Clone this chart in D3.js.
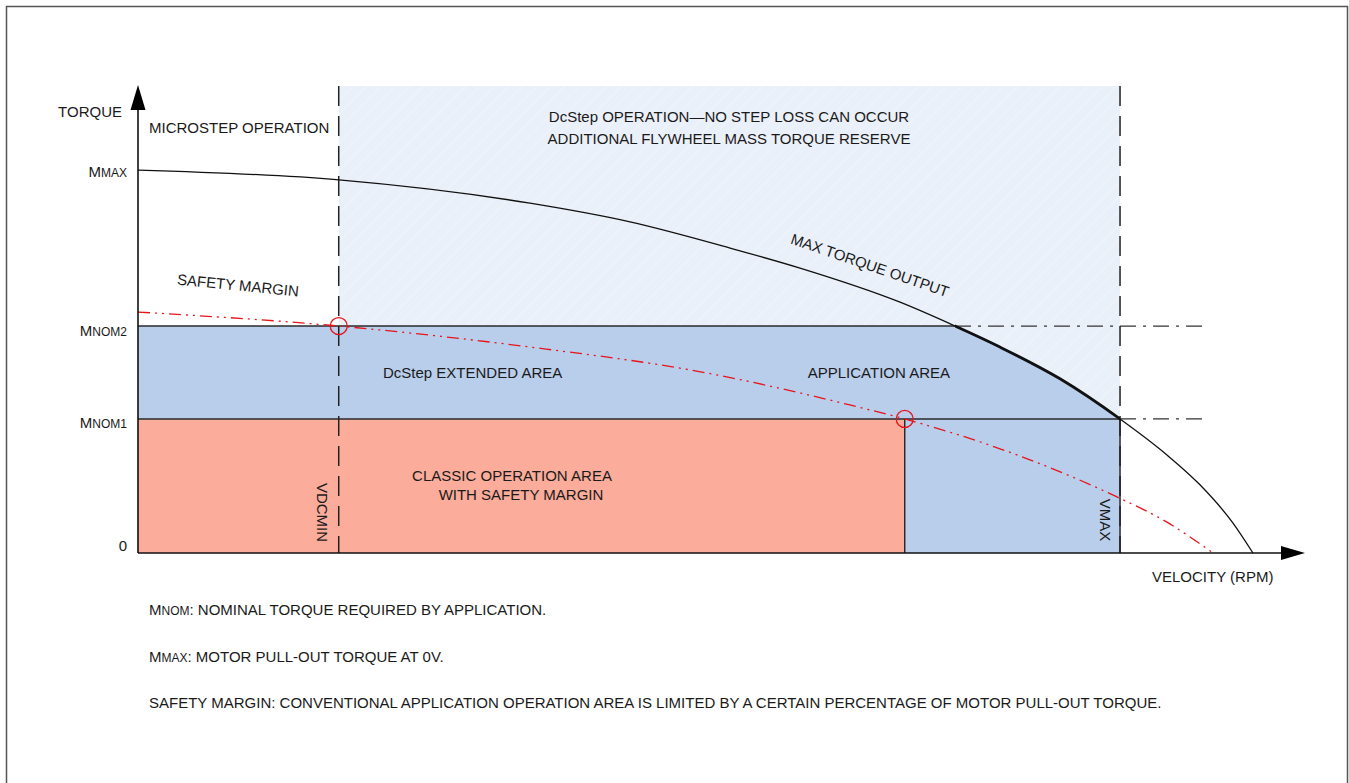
<!DOCTYPE html>
<html>
<head>
<meta charset="utf-8">
<script src="https://cdn.jsdelivr.net/npm/d3@7"></script>
<style>
  body { margin: 0; background: #fff; }
  svg text { font-family: "Liberation Sans", Arial, sans-serif; font-size: 15px; fill: #1a1a1a; }
</style>
</head>
<body>
<div id="chart"></div>
<script>
// torque / velocity chart (arbitrary units)
// velocity 0..1000, torque 0..100
const torqueLevels = [
    { id: "mmax",  main: "M", sub: "MAX",  value: 82.0, dy: 6 },
    { id: "mnom2", main: "M", sub: "NOM2", value: 48.6, dy: 9 },
    { id: "mnom1", main: "M", sub: "NOM1", value: 28.7, dy: 9 },
    { id: "zero",  main: "0", sub: "",     value: 0,    dy: -3 }
];
const M_MAX = 82.0, M_NOM2 = 48.6, M_NOM1 = 28.7;
const V_DCMIN = 172, V_CLASSIC = 657, V_MAX = 841.5, V_GUIDE_END = 916, V_NOM2_CROSS = 700.1;
const V_AXIS_END = 1000, T_AXIS_END = 100;

// max torque output curve [velocity, torque]
const maxTorqueCurve = [
    [0, 82.0], [172.2, 79.9], [335.9, 74.9], [421.6, 70.9], [507.3, 65.3], [567.3, 61.0],
    [653.0, 53.7], [700.1, 48.6], [738.6, 44.1], [790.1, 37.3], [841.5, 28.7],
    [881.7, 21.0], [910.0, 14.6], [938.3, 6.4], [955.4, 0]
];
// safety margin curve (red dash-dot-dot)
const safetyCurve = [
    [0, 51.6], [172, 48.6], [336, 44.1], [482, 38.8], [610, 31.7], [657, 28.7],
    [753.2, 21.0], [838.9, 12.0], [881.7, 6.6], [921.2, 0]
];
const markerPoints = [[V_DCMIN, M_NOM2], [V_CLASSIC, M_NOM1]];

const footnotes = [
    { main: "M", sub: "NOM", rest: ": NOMINAL TORQUE REQUIRED BY APPLICATION." },
    { main: "M", sub: "MAX", rest: ": MOTOR PULL-OUT TORQUE AT 0V." },
    { main: "SAFETY MARGIN: CONVENTIONAL APPLICATION OPERATION AREA IS LIMITED BY A CERTAIN PERCENTAGE OF MOTOR PULL-OUT TORQUE.", sub: "", rest: "" }
];

const W = 1349, H = 783;
const svg = d3.select("#chart").append("svg").attr("width", W).attr("height", H);

const x = d3.scaleLinear().domain([0, V_AXIS_END]).range([138, 1305]);
const y = d3.scaleLinear().domain([0, T_AXIS_END]).range([553, 86]);

const defs = svg.append("defs");
const pat = defs.append("pattern")
    .attr("id", "hatch").attr("patternUnits", "userSpaceOnUse")
    .attr("width", 10).attr("height", 10)
    .attr("patternTransform", "rotate(45)");
pat.append("rect").attr("width", 10).attr("height", 10).attr("fill", "#eaf0f9");
pat.append("line").attr("x1", 0).attr("y1", 0).attr("x2", 0).attr("y2", 10)
    .attr("stroke", "#f3f6fb").attr("stroke-width", 1.5);

const lineGen = d3.line().x(d => x(d[0])).y(d => y(d[1])).curve(d3.curveMonotoneX);
const underCurve = d3.area().x(d => x(d[0])).y0(y(0)).y1(d => y(d[1])).curve(d3.curveMonotoneX);

defs.append("clipPath").attr("id", "under").append("path").attr("d", underCurve(maxTorqueCurve));
defs.append("clipPath").attr("id", "boldseg").append("rect")
    .attr("x", x(V_NOM2_CROSS)).attr("y", 0)
    .attr("width", x(V_MAX) - x(V_NOM2_CROSS)).attr("height", H);

// frame
svg.append("rect").attr("x", 6.5).attr("y", 6.5).attr("width", 1341).attr("height", 820)
    .attr("fill", "none").attr("stroke", "#555").attr("stroke-width", 1.5);

// dcstep region (hatched light blue)
svg.append("rect")
    .attr("x", x(V_DCMIN)).attr("y", y(T_AXIS_END))
    .attr("width", x(V_MAX) - x(V_DCMIN)).attr("height", y(0) - y(T_AXIS_END))
    .attr("fill", "url(#hatch)");

// application area (blue), clipped under max torque curve
svg.append("rect")
    .attr("x", x(0)).attr("y", y(M_NOM2))
    .attr("width", x(V_MAX) - x(0)).attr("height", y(0) - y(M_NOM2))
    .attr("fill", "#b9ceeb").attr("clip-path", "url(#under)");

// classic area (salmon)
svg.append("rect")
    .attr("x", x(0)).attr("y", y(M_NOM1))
    .attr("width", x(V_CLASSIC) - x(0)).attr("height", y(0) - y(M_NOM1))
    .attr("fill", "#fbac9a");

// solid boundaries
const solid = svg.append("g").attr("stroke", "#2a2a2a").attr("stroke-width", 1.5);
solid.append("line").attr("x1", x(0)).attr("x2", x(V_NOM2_CROSS)).attr("y1", y(M_NOM2)).attr("y2", y(M_NOM2));
solid.append("line").attr("x1", x(0)).attr("x2", x(V_MAX)).attr("y1", y(M_NOM1)).attr("y2", y(M_NOM1));
solid.append("line").attr("x1", x(V_CLASSIC)).attr("x2", x(V_CLASSIC)).attr("y1", y(M_NOM1)).attr("y2", y(0));
solid.append("line").attr("x1", x(V_MAX)).attr("x2", x(V_MAX)).attr("y1", y(M_NOM1)).attr("y2", y(0));

// dash-dot guides
const guides = svg.append("g").attr("stroke", "#333").attr("stroke-width", 1.2)
    .attr("stroke-dasharray", "16,7,3,7");
guides.append("line").attr("x1", x(V_NOM2_CROSS)).attr("x2", x(V_GUIDE_END)).attr("y1", y(M_NOM2)).attr("y2", y(M_NOM2));
guides.append("line").attr("x1", x(V_MAX)).attr("x2", x(V_GUIDE_END)).attr("y1", y(M_NOM1)).attr("y2", y(M_NOM1));

// vertical dashed lines
svg.append("g").selectAll("line").data([V_DCMIN, V_MAX]).join("line")
    .attr("x1", d => x(d)).attr("x2", d => x(d))
    .attr("y1", y(T_AXIS_END)).attr("y2", y(0))
    .attr("stroke", "#222").attr("stroke-width", 1.5).attr("stroke-dasharray", "20,10");

// curves
svg.append("path").attr("d", lineGen(maxTorqueCurve))
    .attr("fill", "none").attr("stroke", "#111").attr("stroke-width", 1.3);
svg.append("path").attr("d", lineGen(maxTorqueCurve))
    .attr("fill", "none").attr("stroke", "#111").attr("stroke-width", 2.8)
    .attr("clip-path", "url(#boldseg)");
svg.append("path").attr("d", lineGen(safetyCurve))
    .attr("fill", "none").attr("stroke", "#e8141a").attr("stroke-width", 1.3)
    .attr("stroke-dasharray", "12,5,2,5,2,5");

// axes
const yAxis = d3.axisLeft(y).tickValues(torqueLevels.map(d => d.value)).tickSize(0).tickPadding(11);
const yAxisG = svg.append("g").attr("transform", `translate(${x(0)},0)`).call(yAxis);
yAxisG.select(".domain").remove();
yAxisG.selectAll(".tick text").each(function (v) {
    const lv = torqueLevels.find(t => t.value === v);
    const t = d3.select(this).text(null).attr("dy", null).attr("y", lv.dy)
        .attr("font-family", null).attr("font-size", null).attr("fill", null);
    t.append("tspan").text(lv.main);
    if (lv.sub) t.append("tspan").attr("font-size", "12px").text(lv.sub);
});

const axisLine = svg.append("g").attr("stroke", "#111").attr("stroke-width", 1.6);
axisLine.append("line").attr("x1", x(0)).attr("x2", x(0)).attr("y1", y(0)).attr("y2", y(T_AXIS_END) + 20);
axisLine.append("line").attr("x1", x(0)).attr("x2", x(V_AXIS_END) - 20).attr("y1", y(0)).attr("y2", y(0));
svg.append("path")
    .attr("d", `M${x(0)},${y(T_AXIS_END) - 1}L${x(0) - 7.5},${y(T_AXIS_END) + 24}L${x(0) + 7.5},${y(T_AXIS_END) + 24}Z`)
    .attr("fill", "#000");
svg.append("path")
    .attr("d", `M${x(V_AXIS_END)},${y(0)}L${x(V_AXIS_END) - 24},${y(0) - 7}L${x(V_AXIS_END) - 24},${y(0) + 7}Z`)
    .attr("fill", "#000");

// red markers
svg.append("g").selectAll("circle").data(markerPoints).join("circle")
    .attr("cx", d => x(d[0])).attr("cy", d => y(d[1])).attr("r", 8.5)
    .attr("fill", "none").attr("stroke", "#e8141a").attr("stroke-width", 1.3);

// labels
const label = (txt, px, py, anchor = "start") =>
    svg.append("text").attr("x", px).attr("y", py).attr("text-anchor", anchor).text(txt);

label("TORQUE", 122, 117, "end");
label("MICROSTEP OPERATION", 149, 132.5);
label("DcStep OPERATION\u2014NO STEP LOSS CAN OCCUR", 729, 121.5, "middle");
label("ADDITIONAL FLYWHEEL MASS TORQUE RESERVE", 729, 144, "middle");
label("DcStep EXTENDED AREA", 383, 378);
label("APPLICATION AREA", 950, 378, "end");
label("CLASSIC OPERATION AREA", 512, 481, "middle");
label("WITH SAFETY MARGIN", 521, 500, "middle");
label("VELOCITY (RPM)", 1152, 582);

const rotLabel = (txt, cx, cy, ang) =>
    svg.append("text").attr("transform", `translate(${cx},${cy}) rotate(${ang})`)
        .attr("text-anchor", "middle").attr("dominant-baseline", "central").text(txt);

rotLabel("MAX TORQUE OUTPUT", 870, 265, 19);
rotLabel("SAFETY MARGIN", 238, 285, 5.7);
rotLabel("VDCMIN", 322.5, 512.5, 90);
rotLabel("VMAX", 1105.5, 520, 90);

// footnotes
svg.append("g").selectAll("text").data(footnotes).join("text")
    .attr("x", 149).attr("y", (d, i) => 615 + i * 46.5)
    .each(function (d) {
        const t = d3.select(this);
        t.append("tspan").text(d.main);
        if (d.sub) t.append("tspan").attr("font-size", "12px").text(d.sub);
        if (d.rest) t.append("tspan").text(d.rest);
    });
</script>
</body>
</html>
